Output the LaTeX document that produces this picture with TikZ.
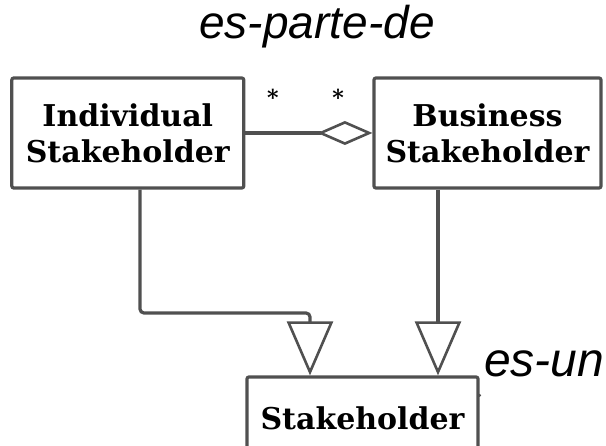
\documentclass[tikz,border=0pt]{standalone}
\usepackage{fontspec}
\newfontfamily\boxfont{DejaVu Serif}
\newfontfamily\labfont{Liberation Sans}
\usetikzlibrary{arrows.meta}
\definecolor{linegray}{HTML}{505050}
\begin{document}
\begin{tikzpicture}[x=1pt,y=-1pt,
  umlbox/.style={draw=linegray, line width=3.2pt, rounded corners=2pt, fill=white,
    inner sep=0pt, align=center, text=black,
    font=\boxfont\bfseries\fontsize{30}{36}\selectfont},
  conn/.style={draw=linegray, line width=3.2pt},
  relname/.style={font=\labfont\itshape\fontsize{46}{46}\selectfont, inner sep=0pt, anchor=base},
  mult/.style={font=\boxfont\bfseries\fontsize{22}{22}\selectfont, inner sep=0pt, text=black}
]
\useasboundingbox (0,0) rectangle (606,446);

% classes
\node[umlbox, minimum width=232pt, minimum height=110pt] (ind) at (127.8,133) {Individual\\Stakeholder};
\node[umlbox, minimum width=227pt, minimum height=110pt] (bus) at (487.5,133) {Business\\Stakeholder};
\node[umlbox, minimum width=231pt, minimum height=83pt] (stk) at (362.5,418.5) {Stakeholder};

% relation names and multiplicities
\node[relname] (partof) at (317,39) {es-parte-de};
\node[relname, anchor=base west, font=\labfont\itshape\fontsize{48}{48}\selectfont] (isa) at (484,377) {es-un};
\node[mult] (m1) at (273,97) {*};
\node[mult] (m2) at (338,97) {*};

% aggregation
\draw[conn, -{Diamond[open, fill=white, length=55pt, width=24pt, line width=2.6pt]}] (ind.east) -- (bus.west);

% generalisations
\coordinate (bend) at (310,313);
\draw[conn, rounded corners=4pt, -{Triangle[open, fill=white, length=54pt, width=46pt, line width=2.6pt]}]
  ([xshift=12.2pt]ind.south) |- (bend) -- (bend |- stk.north);
\draw[conn, -{Triangle[open, fill=white, length=54pt, width=46pt, line width=2.6pt]}]
  ([xshift=-49.5pt]bus.south) -- ([xshift=75.5pt]stk.north);

% small mark on the box edge
\fill[linegray] ([yshift=-20pt]stk.north east) circle (1.6pt);
\end{tikzpicture}
\end{document}
